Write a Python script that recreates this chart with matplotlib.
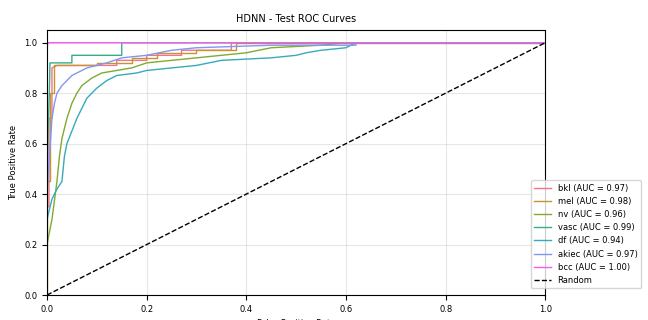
import matplotlib
matplotlib.use("Agg")
import matplotlib.pyplot as plt
import seaborn as sns

clases = ["bkl", "mel", "nv", "vasc", "df", "akiec", "bcc"]
aucs = [0.97, 0.98, 0.96, 0.99, 0.94, 0.97, 1.00]

fpr_bkl = [0, 0, 0.004, 0.004, 0.010, 0.010, 0.02, 0.14, 0.14, 0.20, 0.20, 0.27, 0.27, 0.37, 0.37, 1]
tpr_bkl = [0, 0.35, 0.35, 0.70, 0.70, 0.90, 0.91, 0.91, 0.93, 0.93, 0.95, 0.95, 0.97, 0.97, 1.0, 1.0]

fpr_mel = [0, 0, 0.006, 0.006, 0.015, 0.015, 0.10, 0.10, 0.17, 0.17, 0.22, 0.22, 0.30, 0.30, 0.38, 0.38, 1]
tpr_mel = [0, 0.45, 0.45, 0.80, 0.80, 0.91, 0.91, 0.92, 0.92, 0.94, 0.94, 0.96, 0.96, 0.97, 0.97, 1.0, 1.0]

fpr_nv = [0, 0, 0.01, 0.02, 0.025, 0.03, 0.04, 0.05, 0.06, 0.07, 0.09, 0.11, 0.14, 0.17, 0.20, 0.30, 0.40, 0.45, 0.55, 0.60, 1]
tpr_nv = [0, 0.20, 0.30, 0.45, 0.55, 0.62, 0.70, 0.76, 0.80, 0.83, 0.86, 0.88, 0.89, 0.90, 0.92, 0.94, 0.96, 0.98, 0.99, 1.0, 1.0]

fpr_vasc = [0, 0, 0.005, 0.006, 0.05, 0.05, 0.15, 0.15, 1]
tpr_vasc = [0, 0.50, 0.82, 0.92, 0.92, 0.95, 0.95, 1.0, 1.0]

fpr_df = [0, 0, 0.01, 0.02, 0.03, 0.035, 0.04, 0.05, 0.06, 0.07, 0.08, 0.10, 0.12, 0.14, 0.18, 0.20, 0.25,
          0.30, 0.35, 0.45, 0.50, 0.52, 0.55, 0.60, 0.62, 1]
tpr_df = [0, 0.30, 0.38, 0.42, 0.45, 0.55, 0.60, 0.65, 0.70, 0.74, 0.78, 0.82, 0.85, 0.87, 0.88, 0.89, 0.90,
          0.91, 0.93, 0.94, 0.95, 0.96, 0.97, 0.98, 1.0, 1.0]

fpr_akiec = [0, 0, 0.005, 0.01, 0.015, 0.02, 0.03, 0.05, 0.08, 0.12, 0.15, 0.20, 0.25, 0.30, 0.45, 0.62, 0.62, 1]
tpr_akiec = [0, 0.40, 0.55, 0.70, 0.76, 0.80, 0.83, 0.87, 0.90, 0.92, 0.94, 0.95, 0.97, 0.98, 0.99, 0.99, 1.0, 1.0]

fpr_bcc = [0, 0, 0.002, 1]
tpr_bcc = [0, 0.98, 1.0, 1.0]

curvas = [(fpr_bkl, tpr_bkl), (fpr_mel, tpr_mel), (fpr_nv, tpr_nv), (fpr_vasc, tpr_vasc),
          (fpr_df, tpr_df), (fpr_akiec, tpr_akiec), (fpr_bcc, tpr_bcc)]

colores = sns.color_palette("husl", len(clases))

fig = plt.figure(figsize=(6.48, 3.2), dpi=100)
ax = fig.add_axes([0.0725, 0.078, 0.769, 0.828])

for nombre, auc, (fpr, tpr), color in zip(clases, aucs, curvas, colores):
    ax.plot(fpr, tpr, color=color, lw=1, label=f"{nombre} (AUC = {auc:.2f})")

ax.plot([0, 1], [0, 1], "k--", lw=1, label="Random")

ax.set_xlim(0, 1)
ax.set_ylim(0, 1.05)
ax.set_title("HDNN - Test ROC Curves", fontsize=7)
ax.set_xlabel("False Positive Rate", fontsize=6)
ax.set_ylabel("True Positive Rate", fontsize=6)
ax.tick_params(labelsize=6)
ax.grid(True, alpha=0.3)
ax.legend(loc="lower right", bbox_to_anchor=(1.2, 0.01), fontsize=6)

fig.savefig("out.png")
